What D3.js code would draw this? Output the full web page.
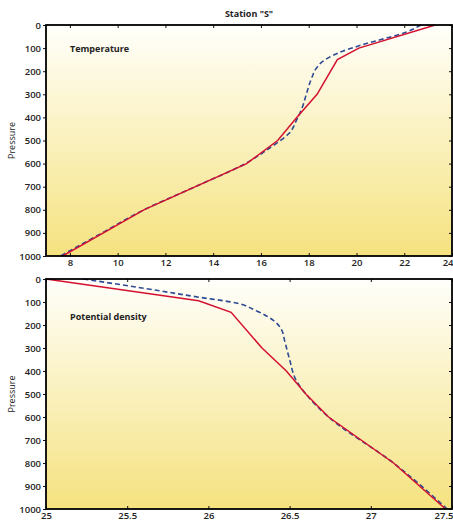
<!DOCTYPE html>
<html lang="en">
<head>
    <meta charset="UTF-8">
    <title>Station S profiles</title>
    <script src="https://d3js.org/d3.v7.min.js"></script>
    <style>
        body { margin: 0; background: #fff; }
        svg text { font-family: "Open Sans", sans-serif; fill: #222; }
        .tick text { font-size: 9.5px; font-weight: 600; }
    </style>
</head>
<body>
    <svg width="453" height="523"></svg>
    <script>
        // pressure levels and profiles
        const tempRedP = [0, 100, 150, 300, 400, 500, 600, 800, 1000];
        const tempRed = [23.3, 20.1, 19.2, 18.35, 17.5, 16.7, 15.4, 11.1, 7.7];
        const tempBlueP = [0, 30, 87, 120, 160, 190, 225, 300, 360, 410, 470, 530, 600, 700, 800, 900, 1000];
        const tempBlue = [22.7, 22.1, 20.2, 19.26, 18.56, 18.3, 18.14, 17.9, 17.72, 17.5, 17.17, 16.4, 15.35, 13.25, 11.1, 9.35, 7.6];

        const densRedP = [0, 95, 145, 300, 400, 500, 600, 800, 1000];
        const densRed = [25.0, 25.94, 26.14, 26.33, 26.48, 26.6, 26.74, 27.14, 27.46];
        const densBlueP = [0, 40, 80, 100, 140, 180, 220, 270, 350, 440, 500, 600, 800, 1000];
        const densBlue = [25.23, 25.6, 25.95, 26.14, 26.3, 26.4, 26.45, 26.47, 26.5, 26.54, 26.6, 26.74, 27.14, 27.47];

        const pressureTicks = [0, 100, 200, 300, 400, 500, 600, 700, 800, 900, 1000];
        const tempTicks = [8, 10, 12, 14, 16, 18, 20, 22, 24];
        const densTicks = [25, 25.5, 26, 26.5, 27, 27.5];

        const svg = d3.select("svg");
        const defs = svg.append("defs");
        const grad = defs.append("linearGradient")
            .attr("id", "bg").attr("x1", 0).attr("y1", 0).attr("x2", 0).attr("y2", 1);
        grad.append("stop").attr("offset", "0%").attr("stop-color", "#fffffb");
        grad.append("stop").attr("offset", "100%").attr("stop-color", "#f5e27f");

        svg.append("text")
            .attr("x", 249).attr("y", 17)
            .attr("text-anchor", "middle")
            .style("font-size", "9px").style("font-weight", 700)
            .text('Station "S"');

        function drawPanel(opts) {
            const left = 46, right = 452;
            const x = d3.scaleLinear().domain(opts.xDomain).range([left, right]);
            const y = d3.scaleLinear().domain([0, 1000]).range([opts.top, opts.bottom]);

            const g = svg.append("g");

            g.append("rect")
                .attr("x", left).attr("y", opts.top)
                .attr("width", right - left).attr("height", opts.bottom - opts.top)
                .attr("fill", "url(#bg)");

            // curves: dashed one is smooth, red one is piecewise
            const line = d3.line().x(d => x(d[0])).y(d => y(d[1]));
            const smooth = d3.line().x(d => x(d[0])).y(d => y(d[1])).curve(d3.curveMonotoneY);
            g.append("path")
                .datum(d3.zip(opts.blue, opts.blueP))
                .attr("d", smooth)
                .attr("fill", "none")
                .attr("stroke", "#2e4b94")
                .attr("stroke-width", 1.6)
                .attr("stroke-dasharray", "5,3");
            g.append("path")
                .datum(d3.zip(opts.red, opts.redP))
                .attr("d", line)
                .attr("fill", "none")
                .attr("stroke", "#d4102f")
                .attr("stroke-width", 1.5);

            // axes
            const xBottom = g.append("g")
                .attr("transform", `translate(0,${opts.bottom})`)
                .call(d3.axisBottom(x).tickValues(opts.xTicks).tickSizeInner(-3).tickSizeOuter(0).tickPadding(3)
                    .tickFormat(d3.format("")));
            const xTop = g.append("g")
                .attr("transform", `translate(0,${opts.top})`)
                .call(d3.axisTop(x).tickValues(opts.xTicks).tickSizeInner(-3).tickSizeOuter(0).tickFormat(""));
            const yLeft = g.append("g")
                .attr("transform", `translate(${left},0)`)
                .call(d3.axisLeft(y).tickValues(pressureTicks).tickSizeInner(3).tickSizeOuter(0).tickPadding(2)
                    .tickFormat(d3.format("d")));
            const yRight = g.append("g")
                .attr("transform", `translate(${right},0)`)
                .call(d3.axisRight(y).tickValues(pressureTicks).tickSizeInner(-3).tickSizeOuter(0).tickFormat(""));

            [xBottom, xTop, yLeft, yRight].forEach(a => {
                a.select(".domain").remove();
                a.selectAll("line").attr("stroke", "#111").attr("stroke-width", 1);
            });

            // keep the last label inside the window
            xBottom.selectAll(".tick text")
                .filter(d => d === opts.xTicks[opts.xTicks.length - 1])
                .attr("text-anchor", "end")
                .attr("x", 453 - right);

            g.append("rect")
                .attr("x", left).attr("y", opts.top)
                .attr("width", right - left).attr("height", opts.bottom - opts.top)
                .attr("fill", "none")
                .attr("stroke", "#000")
                .attr("stroke-width", 1.8);

            g.append("text")
                .attr("x", 70).attr("y", opts.top + opts.labelDy)
                .style("font-size", "9px").style("font-weight", 700)
                .text(opts.label);

            g.append("text")
                .attr("transform", `translate(15,${(opts.top + opts.bottom) / 2}) rotate(-90)`)
                .attr("text-anchor", "middle")
                .style("font-size", "9px")
                .text("Pressure");
        }

        drawPanel({
            top: 25, bottom: 256,
            xDomain: [7, 24], xTicks: tempTicks,
            red: tempRed, redP: tempRedP, blue: tempBlue, blueP: tempBlueP,
            label: "Temperature", labelDy: 27
        });

        drawPanel({
            top: 279, bottom: 509,
            xDomain: [25, 27.5], xTicks: densTicks,
            red: densRed, redP: densRedP, blue: densBlue, blueP: densBlueP,
            label: "Potential density", labelDy: 41
        });
    </script>
</body>
</html>
